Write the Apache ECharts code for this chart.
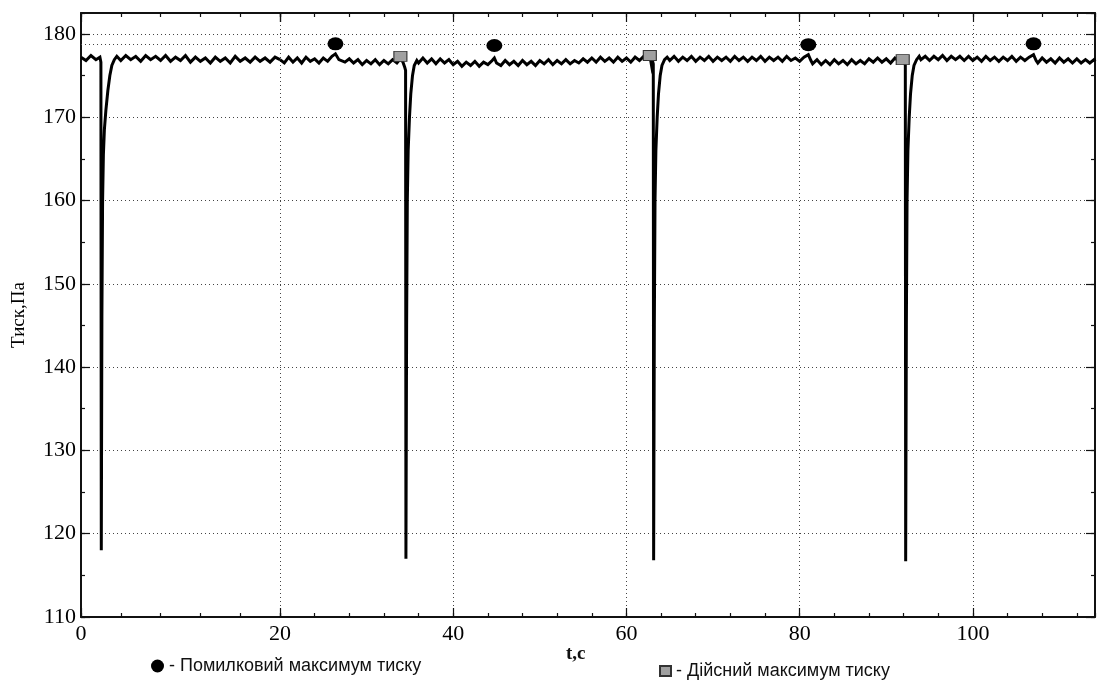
<!DOCTYPE html>
<html>
<head>
<meta charset="utf-8">
<script src="https://cdn.jsdelivr.net/npm/echarts@6/dist/echarts.min.js"></script>
<style>
  html, body { margin: 0; padding: 0; background: #fff; }
  #chart { width: 1098px; height: 684px; }
</style>
</head>
<body>
<div id="chart"></div>
<script>
// Pressure trace [t, s ; p, Pa], first 20 s (drawn on its own x-scale)
const traceEarly = [
  [0,177.2],[0.5,176.8],[1.0,177.4],[1.5,176.9],[1.9,177.2],
  [2.0,176.6],[2.04,118.0],[2.1,146],[2.17,160],[2.25,165.5],[2.35,168.5],[2.5,170.8],[2.7,173.2],[2.9,175.0],[3.1,176.2],[3.35,176.9],
  [3.6,177.3],[4.0,176.8],[4.5,177.4],[5.0,176.9],[5.5,177.3],[6.0,176.7],[6.5,177.4],[7.0,176.9],[7.5,177.3],[8.0,176.8],
  [8.5,177.4],[9.0,176.7],[9.5,177.2],[10.0,176.8],[10.5,177.4],[11.0,176.6],[11.5,177.2],[12.0,176.7],[12.5,177.1],[13.0,176.5],
  [13.5,177.2],[14.0,176.7],[14.5,177.1],[15.0,176.5],[15.5,177.3],[16.0,176.7],[16.5,177.1],[17.0,176.6],[17.5,177.2],[18.0,176.7],
  [18.5,177.1],[19.0,176.6],[19.5,177.2],[20.0,176.9]
];

// Pressure trace [t, s ; p, Pa], 20 s to the end of the record
const traceLate = [
  [20.0,176.9],[20.5,176.5],[21.0,177.2],[21.5,176.6],[22.0,177.1],[22.5,176.5],[23.0,177.2],[23.5,176.7],[24.0,177.0],[24.5,176.5],
  [25.0,177.1],[25.5,176.7],[26.0,177.3],[26.4,177.6],[26.8,176.9],[27.0,177.1],[27.5,176.6],[28.0,177.0],[28.5,176.5],[29.0,176.9],
  [29.5,176.3],[30.0,176.8],[30.5,176.4],[31.0,176.9],[31.5,176.3],[32.0,176.8],[32.5,176.4],[33.0,176.9],[33.5,176.5],[33.9,177.0],
  [34.2,176.6],[34.4,176.0],
  [34.5,175.6],[34.54,117.0],[34.62,145],[34.7,160],[34.8,166],[34.95,170],[35.1,172.8],[35.3,175.0],[35.5,176.2],[35.8,176.8],
  [36.0,176.5],[36.5,177.1],[37.0,176.5],[37.5,177.0],[38.0,176.4],[38.5,177.0],[39.0,176.5],[39.5,176.9],[40.0,176.3],[40.5,176.7],
  [41.0,176.1],[41.5,176.6],[42.0,176.2],[42.5,176.7],[43.0,176.1],[43.5,176.6],[44.0,176.3],[44.5,176.8],[44.75,177.1],[45.0,176.5],
  [45.5,176.2],[46.0,176.8],[46.5,176.3],[47.0,176.7],[47.5,176.2],[48.0,176.8],[48.5,176.3],[49.0,176.7],[49.5,176.2],[50.0,176.8],
  [50.5,176.4],[51.0,176.9],[51.5,176.3],[52.0,176.8],[52.5,176.4],[53.0,176.9],[53.5,176.4],[54.0,176.8],[54.5,176.5],[55.0,177.0],
  [55.5,176.6],[56.0,177.1],[56.5,176.6],[57.0,177.2],[57.5,176.7],[58.0,177.1],[58.5,176.6],[59.0,177.2],[59.5,176.7],[60.0,177.1],
  [60.5,176.6],[61.0,177.2],[61.5,176.8],[62.0,177.3],[62.4,177.0],[62.7,177.4],[62.9,176.2],[63.0,176.8],
  [63.1,176.4],[63.14,116.8],[63.22,145],[63.3,160],[63.4,166],[63.55,170],[63.7,172.8],[63.9,175.0],[64.1,176.2],[64.4,176.9],
  [64.7,177.2],[65.0,176.8],[65.5,177.3],[66.0,176.7],[66.5,177.2],[67.0,176.8],[67.5,177.3],[68.0,176.7],[68.5,177.2],[69.0,176.8],
  [69.5,177.3],[70.0,176.7],[70.5,177.2],[71.0,176.8],[71.5,177.2],[72.0,176.7],[72.5,177.3],[73.0,176.8],[73.5,177.2],[74.0,176.7],
  [74.5,177.2],[75.0,176.8],[75.5,177.3],[76.0,176.7],[76.5,177.2],[77.0,176.8],[77.5,177.2],[78.0,176.7],[78.5,177.3],[79.0,176.8],
  [79.5,177.1],[80.0,176.7],[80.5,177.2],[81.0,177.5],[81.3,176.8],[81.5,176.4],[82.0,176.9],[82.5,176.3],[83.0,176.8],[83.5,176.3],
  [84.0,176.9],[84.5,176.4],[85.0,176.8],[85.5,176.3],[86.0,176.9],[86.5,176.4],[87.0,176.8],[87.5,176.4],[88.0,177.0],[88.5,176.6],
  [89.0,177.1],[89.5,176.6],[90.0,177.0],[90.5,176.5],[91.0,177.1],[91.5,176.7],[91.9,177.0],[92.1,176.6],
  [92.2,176.2],[92.24,116.7],[92.32,145],[92.4,160],[92.5,166],[92.65,170],[92.8,172.8],[93.0,175.0],[93.2,176.2],[93.5,176.9],
  [93.8,177.3],[94.0,176.9],[94.5,177.3],[95.0,176.8],[95.5,177.3],[96.0,176.9],[96.5,177.4],[97.0,176.8],[97.5,177.3],[98.0,176.9],
  [98.5,177.3],[99.0,176.8],[99.5,177.3],[100.0,176.8],[100.5,177.2],[101.0,176.7],[101.5,177.3],[102.0,176.8],[102.5,177.2],[103.0,176.7],
  [103.5,177.2],[104.0,176.8],[104.5,177.3],[105.0,176.7],[105.5,177.2],[106.0,176.8],[106.5,177.2],[107.0,177.5],[107.3,176.8],[107.5,176.5],
  [108.0,177.1],[108.5,176.6],[109.0,177.0],[109.5,176.5],[110.0,177.1],[110.5,176.6],[111.0,177.0],[111.5,176.5],[112.0,177.0],[112.5,176.5],
  [113.0,176.9],[113.5,176.5],[114.0,176.9],[114.1,176.7]
];

// Detected maxima [t, s ; p, Pa]
const falseMaxima = [[26.4,178.8],[44.75,178.6],[81.0,178.7],[107.0,178.8]];
const trueMaxima  = [[33.9,177.3],[62.7,177.4],[91.9,176.9]];

// Detection threshold, Pa
const thresholdPa = 178.7;

// Axis ranges and tick steps
const timeEarly = [0, 20];
const timeLate = [20, 114.1];
const pressureRange = [110, 182.5];
const xMajorStep = 20, xMinorStep = 4;
const yMajorStep = 10, yMinorStep = 5;

const seriesNames = ['Помилковий максимум тиску', 'Дійсний максимум тиску'];
const axisTitles = { x: 't,c', y: 'Тиск,Па' };

// ---------------------------------------------------------------------------
const ink = '#111';
const serif = 'Liberation Serif';
const sans = 'Liberation Sans';
const dots = { color: '#444', width: 1, type: [1, 3] };
const frame = { show: true, onZero: false, lineStyle: { color: ink, width: 2 } };

// A value axis used only for its ticks / frame line; several share one grid
function tickAxis(gridIndex, range, position, step, tickLen, extra) {
  return Object.assign({
    type: 'value', gridIndex: gridIndex, position: position,
    min: range[0], max: range[1], interval: step,
    axisLine: { show: false, onZero: false },
    axisTick: { show: true, inside: true, length: tickLen, lineStyle: { color: ink, width: 1.2 } },
    axisLabel: { show: false },
    splitLine: { show: false },
    silent: true
  }, extra || {});
}

const xLabel = { show: true, fontFamily: serif, fontSize: 22, color: '#000', margin: 6, showMaxLabel: false };
const yLabel = { show: true, fontFamily: serif, fontSize: 22, color: '#000', margin: 5, showMaxLabel: false };

const xAxes = [
  // grid 0 (0..20 s)
  tickAxis(0, timeEarly, 'bottom', xMajorStep, 9, { axisLine: frame, axisLabel: xLabel }),
  tickAxis(0, timeEarly, 'bottom', xMinorStep, 4),
  tickAxis(0, timeEarly, 'top', xMajorStep, 9, { axisLine: frame }),
  tickAxis(0, timeEarly, 'top', xMinorStep, 4),
  // grid 1 (20 s .. end)
  tickAxis(1, timeLate, 'bottom', xMajorStep, 9, { axisLine: frame, axisLabel: xLabel, splitLine: { show: true, lineStyle: dots } }),
  tickAxis(1, timeLate, 'bottom', xMinorStep, 4),
  tickAxis(1, timeLate, 'top', xMajorStep, 9, { axisLine: frame }),
  tickAxis(1, timeLate, 'top', xMinorStep, 4)
];

const yAxes = [
  tickAxis(0, pressureRange, 'left', yMajorStep, 9, {
    axisLine: frame, axisLabel: yLabel, splitLine: { show: true, lineStyle: dots },
    name: axisTitles.y, nameLocation: 'middle', nameRotate: 90, nameGap: 52,
    nameTextStyle: { fontFamily: serif, fontSize: 19, color: '#000' }
  }),
  tickAxis(0, pressureRange, 'left', yMinorStep, 4),
  tickAxis(1, pressureRange, 'right', yMajorStep, 9, { axisLine: frame, splitLine: { show: true, lineStyle: dots } }),
  tickAxis(1, pressureRange, 'right', yMinorStep, 4)
];

const thresholdLine = {
  silent: true, symbol: 'none', label: { show: false },
  lineStyle: dots, data: [{ yAxis: thresholdPa }], animation: false
};

const traceStyle = {
  type: 'line', showSymbol: false, symbol: 'none', animation: false,
  lineStyle: { color: '#000', width: 3, join: 'miter' }, itemStyle: { color: '#000' }, z: 3
};

const option = {
  backgroundColor: '#fff',
  animation: false,
  grid: [
    { left: 81, top: 13, width: 199, height: 604 },
    { left: 280, top: 13, width: 815, height: 604 }
  ],
  xAxis: xAxes,
  yAxis: yAxes,
  legend: [
    {
      data: [seriesNames[0]], left: 146, top: 652, icon: 'circle',
      itemWidth: 13, itemHeight: 13, formatter: '- {name}', selectedMode: false,
      textStyle: { fontFamily: sans, fontSize: 18, color: '#111' }
    },
    {
      data: [seriesNames[1]], left: 654, top: 657, icon: 'rect',
      itemWidth: 11, itemHeight: 10, formatter: '- {name}', selectedMode: false,
      textStyle: { fontFamily: sans, fontSize: 18, color: '#111' }
    }
  ],
  graphic: [{
    type: 'text', left: 566, top: 645,
    style: { text: axisTitles.x, font: 'bold 19px "Liberation Serif"', fill: '#111' }
  }],
  series: [
    Object.assign({}, traceStyle, { xAxisIndex: 0, yAxisIndex: 0, data: traceEarly, markLine: thresholdLine }),
    Object.assign({}, traceStyle, { xAxisIndex: 4, yAxisIndex: 2, data: traceLate, markLine: thresholdLine }),
    {
      type: 'scatter', name: seriesNames[0], xAxisIndex: 4, yAxisIndex: 2,
      data: falseMaxima, symbol: 'circle', symbolSize: [16, 13], z: 5,
      itemStyle: { color: '#000', opacity: 1 }
    },
    {
      type: 'scatter', name: seriesNames[1], xAxisIndex: 4, yAxisIndex: 2,
      data: trueMaxima, symbol: 'rect', symbolSize: [13, 10], z: 5,
      itemStyle: { color: '#a0a0a0', borderColor: '#333', borderWidth: 1, opacity: 1 }
    }
  ]
};

const chart = echarts.init(document.getElementById('chart'), null, { renderer: 'canvas' });
chart.setOption(option);
</script>
</body>
</html>
